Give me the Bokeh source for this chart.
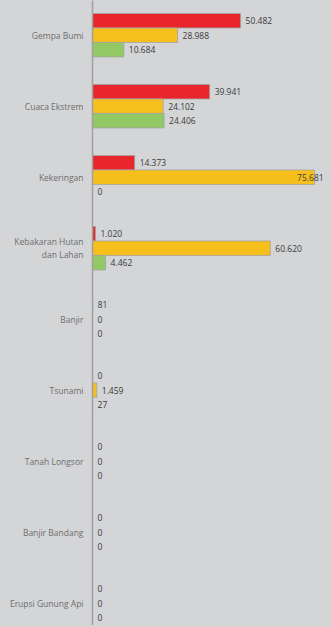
from bokeh.plotting import figure
from bokeh.models import ColumnDataSource, Range1d, FixedTicker, GlobalInlineStyleSheet
from bokeh.transform import dodge
from bokeh.core.properties import value
from bokeh.embed import file_html
from bokeh.resources import INLINE

# ---- data ----
categories = ["Gempa Bumi", "Cuaca Ekstrem", "Kekeringan", "Kebakaran Hutan\ndan Lahan",
              "Banjir", "Tsunami", "Tanah Longsor", "Banjir Bandang", "Erupsi Gunung Api"]
red_vals = [50482, 39941, 14373, 1020, 81, 0, 0, 0, 0]
yellow_vals = [28988, 24102, 75681, 60620, 0, 1459, 0, 0, 0]
green_vals = [10684, 24406, 0, 4462, 0, 27, 0, 0, 0]

BG = "#d4d5d7"
RED = "#e8262c"
YELLOW = "#f7bf1c"
GREEN = "#92c965"

W, H = 329, 625
LEFT_PX = 92
X_END = 80794

def fmt(v):
    return "{:,}".format(v).replace(",", ".")

pos = list(range(len(categories)))
p = figure(width=W, height=H, output_backend="svg", toolbar_location=None,
           x_range=Range1d(0, X_END), y_range=Range1d(8.314, -0.489),
           min_border_left=LEFT_PX, min_border_right=0, min_border_top=0, min_border_bottom=0,
           background_fill_color=BG, border_fill_color=BG, outline_line_color=None)
p.xaxis.visible = False
p.grid.visible = False

frame_w = W - LEFT_PX
px_per_unit = frame_w / X_END
bw = 0.204
series = [(red_vals, RED, -bw), (yellow_vals, YELLOW, 0.0), (green_vals, GREEN, bw)]
for vals, col, off in series:
    labels = [fmt(v) for v in vals]
    xoffs = []
    for v, lab in zip(vals, labels):
        lab_w = len(lab) * 4.9
        end_px = v * px_per_unit
        if end_px + 5 + lab_w <= frame_w - 2:
            xoffs.append(5)
        else:
            xoffs.append(frame_w - 3 - lab_w - end_px)
    src = ColumnDataSource(dict(y=pos, v=vals, lab=labels, xo=xoffs))
    p.hbar(y=dodge("y", off, range=p.y_range), left=0, right="v", height=bw,
           source=src, fill_color=col, line_color="#a3a3a3", line_width=0.8)
    p.text(x="v", y=dodge("y", off, range=p.y_range), text="lab", x_offset="xo", source=src,
           text_font=value("Open Sans"), text_font_size="8.5px", text_color="#3a3a3a",
           text_baseline="middle", text_align="left")

ax = p.yaxis[0]
ax.ticker = FixedTicker(ticks=pos)
ax.major_label_overrides = {i: c for i, c in enumerate(categories)}
ax.major_tick_line_color = None
ax.minor_tick_line_color = None
ax.major_tick_out = 0
ax.major_tick_in = 0
ax.major_label_standoff = 9
ax.axis_line_color = "#a0a0a0"
ax.axis_line_width = 1.5
ax.major_label_text_font = "Open Sans"
ax.major_label_text_font_size = "8.5px"
ax.major_label_text_color = "#6e6e6e"
ax.major_label_text_align = "right"

p.stylesheets = [GlobalInlineStyleSheet(css="body{background:%s;}" % BG)]

open("out.html", "w").write(file_html(p, INLINE))
